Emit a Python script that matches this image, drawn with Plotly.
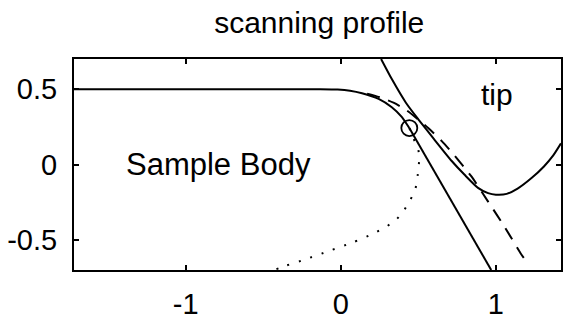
import plotly.graph_objects as go

# ---- data ----
sample_x = [-1.72, -0.15, -0.02, 0.06, 0.137, 0.244, 0.329, 0.393, 0.442]
sample_y = [0.50, 0.50, 0.498, 0.49, 0.473, 0.435, 0.380, 0.316, 0.242]

wall_x = [0.442, 0.97]
wall_y = [0.242, -0.70]

contact_x = [0.442]
contact_y = [0.242]

hidden_x = [0.442, 0.47, 0.50, 0.505, 0.50, 0.479, 0.447, 0.404, 0.35, 0.287, 0.21, 0.07, -0.08, -0.23, -0.35, -0.43]
hidden_y = [0.242, 0.17, 0.10, 0.03, -0.04, -0.172, -0.236, -0.31, -0.374, -0.416, -0.459, -0.52, -0.575, -0.63, -0.67, -0.70]

tip_x = [0.26, 0.33, 0.42, 0.50, 0.60, 0.714, 0.80, 0.885, 0.95, 1.00, 1.07, 1.14, 1.23, 1.31, 1.37, 1.42]
tip_y = [0.70, 0.565, 0.41, 0.30, 0.17, 0.025, -0.07, -0.155, -0.19, -0.20, -0.195, -0.16, -0.09, -0.013, 0.06, 0.14]

image_x = [0.17, 0.27, 0.34, 0.425, 0.564, 0.65, 0.714, 0.84, 0.95, 1.06, 1.16, 1.18]
image_y = [0.47, 0.44, 0.41, 0.359, 0.242, 0.157, 0.083, -0.076, -0.246, -0.42, -0.59, -0.62]

x_ticks = [-1, 0, 1]
x_tick_labels = ["-1", "0", "1"]
y_ticks = [-0.5, 0, 0.5]
y_tick_labels = ["-0.5", "0", "0.5"]

title_text = "scanning profile"
label_sample = "Sample Body"
label_tip = "tip"

FONT = "Liberation Sans, Arial, Helvetica, sans-serif"

fig = go.Figure()
fig.add_trace(go.Scatter(x=sample_x, y=sample_y, mode="lines",
                         line=dict(color="black", width=2, shape="spline", smoothing=0.6)))
fig.add_trace(go.Scatter(x=wall_x, y=wall_y, mode="lines",
                         line=dict(color="black", width=2)))
fig.add_trace(go.Scatter(x=hidden_x, y=hidden_y, mode="lines",
                         line=dict(color="black", width=2, dash="2px,10px", shape="spline", smoothing=0.6)))
fig.add_trace(go.Scatter(x=tip_x, y=tip_y, mode="lines",
                         line=dict(color="black", width=2, shape="spline", smoothing=0.6)))
fig.add_trace(go.Scatter(x=image_x, y=image_y, mode="lines",
                         line=dict(color="black", width=2, dash="13px,9px", shape="spline", smoothing=0.6)))
fig.add_trace(go.Scatter(x=contact_x, y=contact_y, mode="markers",
                         marker=dict(symbol="circle-open", size=16, color="black",
                                     line=dict(color="black", width=1.8))))

fig.add_annotation(x=-0.79, y=0.0, text=label_sample, showarrow=False,
                   font=dict(family=FONT, size=31, color="black"),
                   xanchor="center", yanchor="middle")
fig.add_annotation(x=1.01, y=0.465, text=label_tip, showarrow=False,
                   font=dict(family=FONT, size=30, color="black"),
                   xanchor="center", yanchor="middle")

axis_common = dict(showline=True, linecolor="black", linewidth=2, mirror="ticks",
                   ticks="inside", ticklen=5, tickwidth=1.5, tickcolor="black",
                   showgrid=False, zeroline=False,
                   tickfont=dict(family=FONT, size=29, color="black"))

fig.update_xaxes(range=[-1.72, 1.42], tickvals=x_ticks, ticktext=x_tick_labels,
                 ticklabelstandoff=7, **axis_common)
fig.update_yaxes(range=[-0.70, 0.70], tickvals=y_ticks, ticktext=y_tick_labels,
                 ticklabelstandoff=9, **axis_common)

fig.update_layout(
    width=565, height=322,
    margin=dict(l=74, r=2, t=59, b=44),
    paper_bgcolor="white", plot_bgcolor="white",
    showlegend=False,
    title=dict(text=title_text, x=0.565, xanchor="center", y=0.93, yanchor="middle",
               font=dict(family=FONT, size=30, color="black")),
)

fig.write_html("out.html")
